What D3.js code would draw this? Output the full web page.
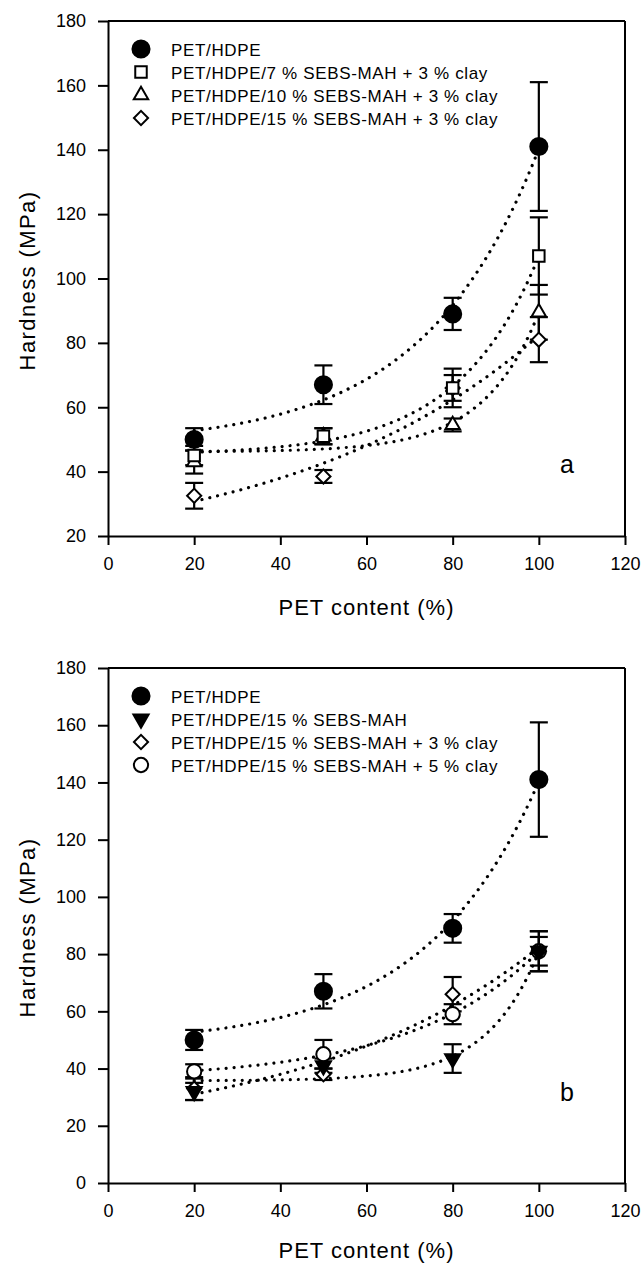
<!DOCTYPE html>
<html>
<head>
<meta charset="utf-8">
<script src="https://cdn.jsdelivr.net/npm/d3@7/dist/d3.min.js"></script>
<style>
  html, body { margin: 0; padding: 0; background: #fff; }
  svg { display: block; }
  text { font-family: 'Liberation Sans', Arial, Helvetica, sans-serif; fill: #000; }
</style>
</head>
<body>
<svg id="chart" width="642" height="1266"></svg>
<script>
// ---------- data ----------
const petContent = [20, 50, 80, 100];
const xTicks = [0, 20, 40, 60, 80, 100, 120];
const yTicksA = [20, 40, 60, 80, 100, 120, 140, 160, 180];
const yTicksB = [0, 20, 40, 60, 80, 100, 120, 140, 160, 180];

// Panel a
const a_names = ["PET/HDPE", "PET/HDPE/7 % SEBS-MAH + 3 % clay", "PET/HDPE/10 % SEBS-MAH + 3 % clay", "PET/HDPE/15 % SEBS-MAH + 3 % clay"];
const a_symbols = ["circleFilled", "square", "triangle", "diamond"];
const a_petHdpe = [50, 67, 89, 141];
const a_petHdpeErr = [3.5, 6, 5, 20];
const a_sebs7 = [45, 51, 66, 107];
const a_sebs7Err = [3, 2.5, 6, 12];
const a_sebs10 = [43, 51, 54.5, 89.5];
const a_sebs10Err = [3.6, 2.5, 2, 8.5];
const a_sebs15 = [32.5, 38.5, 66, 81];
const a_sebs15Err = [4, 2, 4, 7];

// Panel b
const b_names = ["PET/HDPE", "PET/HDPE/15 % SEBS-MAH", "PET/HDPE/15 % SEBS-MAH + 3 % clay", "PET/HDPE/15 % SEBS-MAH + 5 % clay"];
const b_symbols = ["circleFilled", "triangleDown", "diamond", "circleOpen"];
const b_petHdpe = [50, 67, 89, 141];
const b_petHdpeErr = [3.5, 6, 5, 20];
const b_sebs15 = [32, 41, 43.5, 81];
const b_sebs15Err = [3, 2.5, 5, 5];
const b_clay3 = [33, 38, 66, 81];
const b_clay3Err = [4, 2, 6, 7];
const b_clay5 = [39, 45, 59, 81];
const b_clay5Err = [2.5, 5, 3.5, 7];

// ---------- helpers ----------
const svg = d3.select("#chart");

function fitExp(xs, ys) {
  // least squares y = y0 + a*exp(b*x), grid search on b
  let best = null;
  const n = xs.length;
  for (let b = 0.0005; b <= 0.4; b += 0.0005) {
    const e = xs.map(x => Math.exp(b * x));
    const me = d3.mean(e), my = d3.mean(ys);
    let sxx = 0, sxy = 0;
    for (let i = 0; i < n; i++) { sxx += (e[i] - me) ** 2; sxy += (e[i] - me) * (ys[i] - my); }
    const a = sxy / sxx, y0 = my - a * me;
    let sse = 0;
    for (let i = 0; i < n; i++) sse += (ys[i] - (y0 + a * e[i])) ** 2;
    if (!best || sse < best.sse) best = { a, b, y0, sse };
  }
  return x => best.y0 + best.a * Math.exp(best.b * x);
}

function symbolPath(type) {
  switch (type) {
    case "circleFilled": return { d: d3.symbol(d3.symbolCircle, 230)(), fill: "#000", rot: 0 };
    case "circleOpen": return { d: d3.symbol(d3.symbolCircle, 160)(), fill: "#fff", rot: 0 };
    case "square": return { d: d3.symbol(d3.symbolSquare, 132)(), fill: "#fff", rot: 0 };
    case "triangle": return { d: d3.symbol(d3.symbolTriangle, 90)(), fill: "#fff", rot: 0 };
    case "triangleDown": return { d: d3.symbol(d3.symbolTriangle, 100)(), fill: "#000", rot: 180 };
    case "diamond": return { d: d3.symbol(d3.symbolSquare, 100)(), fill: "#fff", rot: 45 };
  }
}

function drawPanel(cfg) {
  const left = 108, right = 625, top = cfg.top, bottom = cfg.top + 515;
  const x = d3.scaleLinear().domain([0, 120]).range([left, right]);
  const y = d3.scaleLinear().domain(cfg.yDomain).range([bottom, top]);
  const g = svg.append("g");

  // frame top & right
  g.append("line").attr("x1", left).attr("x2", right).attr("y1", top).attr("y2", top)
    .attr("stroke", "#000").attr("stroke-width", 2);
  g.append("line").attr("x1", right).attr("x2", right).attr("y1", top).attr("y2", bottom)
    .attr("stroke", "#000").attr("stroke-width", 2);

  const xAxis = g.append("g").attr("transform", `translate(0,${bottom})`)
    .call(d3.axisBottom(x).tickValues(xTicks).tickFormat(d3.format("d")).tickSize(9).tickSizeOuter(0).tickPadding(12));
  const yAxis = g.append("g").attr("transform", `translate(${left},0)`)
    .call(d3.axisLeft(y).tickValues(cfg.yTicks).tickFormat(d3.format("d")).tickSize(10).tickSizeOuter(0).tickPadding(12));
  [xAxis, yAxis].forEach(ax => {
    ax.select(".domain").attr("stroke", "#000").attr("stroke-width", 2);
    ax.selectAll(".tick line").attr("stroke", "#000").attr("stroke-width", 2);
    ax.selectAll(".tick text").style("font-size", "18px").style("font-family", "'Liberation Sans', Arial, sans-serif").attr("fill", "#000");
  });

  // axis titles
  g.append("text").attr("x", (left + right) / 2).attr("y", bottom + cfg.xTitleOffset)
    .attr("text-anchor", "middle").style("font-size", "22px").style("letter-spacing", "1px")
    .text("PET content (%)");
  g.append("text").attr("transform", `translate(35,${(top + bottom) / 2 + 2}) rotate(-90)`)
    .attr("text-anchor", "middle").style("font-size", "22px").style("letter-spacing", "1.4px")
    .text("Hardness (MPa)");

  // fitted dotted curves
  const line = d3.line().x(d => x(d[0])).y(d => y(d[1])).curve(d3.curveLinear);
  cfg.series.forEach(s => {
    const f = fitExp(petContent, s.values);
    const pts = d3.range(20, 100.01, 0.5).map(v => [v, f(v)]);
    g.append("path").attr("d", line(pts)).attr("fill", "none").attr("stroke", "#000")
      .attr("stroke-width", 3.2).attr("stroke-linecap", "round").attr("stroke-dasharray", "0.01 8");
  });

  // error bars
  cfg.series.forEach(s => {
    s.values.forEach((v, i) => {
      const cx = x(petContent[i]), e = s.err[i];
      const eg = g.append("g").attr("stroke", "#000").attr("stroke-width", 2.2);
      eg.append("line").attr("x1", cx).attr("x2", cx).attr("y1", y(v - e)).attr("y2", y(v + e));
      eg.append("line").attr("x1", cx - 9).attr("x2", cx + 9).attr("y1", y(v + e)).attr("y2", y(v + e));
      eg.append("line").attr("x1", cx - 9).attr("x2", cx + 9).attr("y1", y(v - e)).attr("y2", y(v - e));
    });
  });

  // markers (draw last series first so first is on top)
  cfg.series.slice().reverse().forEach(s => {
    const sp = symbolPath(s.symbol);
    s.values.forEach((v, i) => {
      g.append("path").attr("d", sp.d)
        .attr("transform", `translate(${x(petContent[i])},${y(v)}) rotate(${sp.rot})`)
        .attr("fill", sp.fill).attr("stroke", "#000").attr("stroke-width", 2);
    });
  });

  // legend
  cfg.series.forEach((s, i) => {
    const ly = top + 28 + i * 23;
    const sp = symbolPath(s.symbol);
    g.append("path").attr("d", sp.d).attr("transform", `translate(141,${ly}) rotate(${sp.rot})`)
      .attr("fill", sp.fill).attr("stroke", "#000").attr("stroke-width", 2);
    g.append("text").attr("x", 171).attr("y", ly + 6.5)
      .style("font-size", "17px").style("letter-spacing", "0.65px").text(s.name);
  });

  // panel letter
  g.append("text").attr("x", 560).attr("y", cfg.letterY).style("font-size", "25px").text(cfg.letter);
}

drawPanel({
  top: 21, yDomain: [20, 180], yTicks: yTicksA, letter: "a", letterY: 473, xTitleOffset: 79,
  series: [
    { name: a_names[0], symbol: a_symbols[0], values: a_petHdpe, err: a_petHdpeErr },
    { name: a_names[1], symbol: a_symbols[1], values: a_sebs7, err: a_sebs7Err },
    { name: a_names[2], symbol: a_symbols[2], values: a_sebs10, err: a_sebs10Err },
    { name: a_names[3], symbol: a_symbols[3], values: a_sebs15, err: a_sebs15Err }
  ]
});

drawPanel({
  top: 668, yDomain: [0, 180], yTicks: yTicksB, letter: "b", letterY: 1101, xTitleOffset: 75,
  series: [
    { name: b_names[0], symbol: b_symbols[0], values: b_petHdpe, err: b_petHdpeErr },
    { name: b_names[1], symbol: b_symbols[1], values: b_sebs15, err: b_sebs15Err },
    { name: b_names[2], symbol: b_symbols[2], values: b_clay3, err: b_clay3Err },
    { name: b_names[3], symbol: b_symbols[3], values: b_clay5, err: b_clay5Err }
  ]
});
</script>
</body>
</html>
